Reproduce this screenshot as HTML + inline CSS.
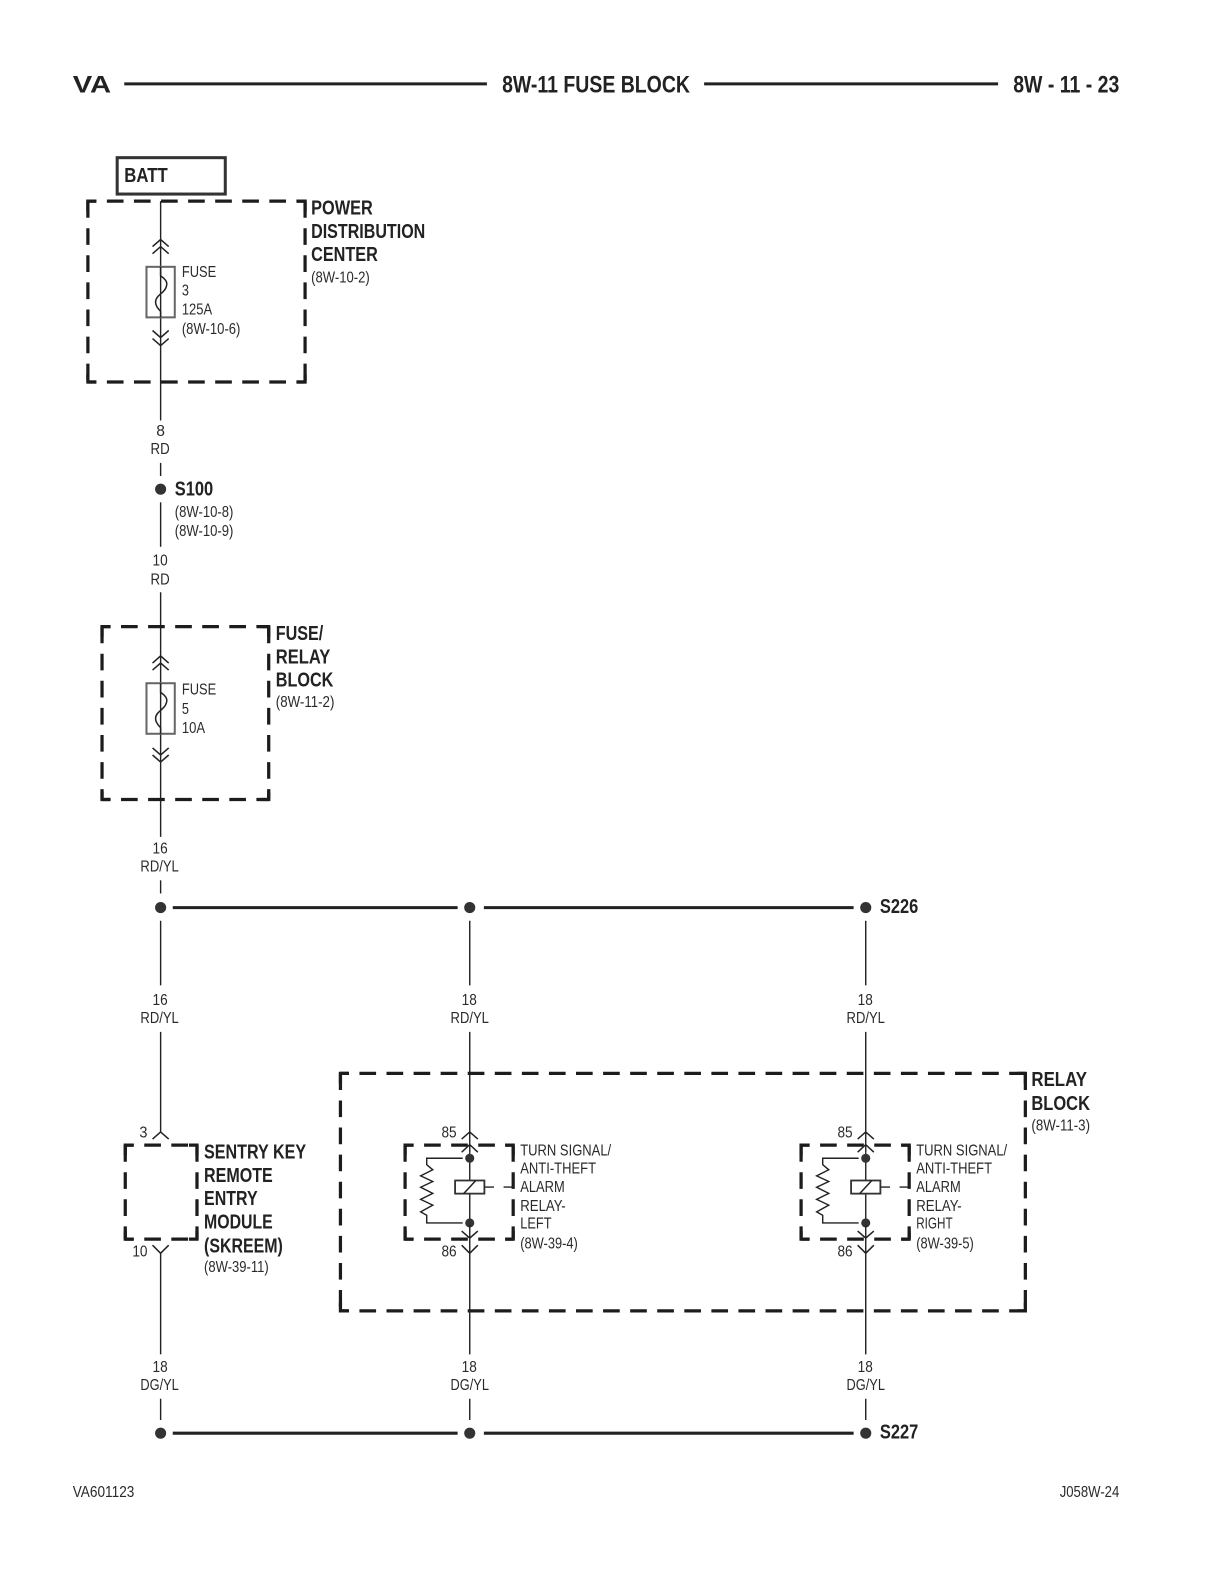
<!DOCTYPE html>
<html><head><meta charset="utf-8"><style>
html,body{margin:0;padding:0;background:#fff}
svg{display:block}
text{font-family:"Liberation Sans",sans-serif;fill:#2a2a2a;transform:translateY(-.7px)}
.s{font-size:15.5px}
.b{font-size:20px;font-weight:bold;fill:#222}
.h{font-size:24px;font-weight:bold;fill:#222}
.w{stroke:#222;stroke-width:1.4;fill:none}
.t{stroke:#222;stroke-width:3;fill:none}
.dh{stroke:#1c1c1c;stroke-width:3.2;fill:none;stroke-dasharray:16.5 10.3;stroke-dashoffset:8}
.dv{stroke:#1c1c1c;stroke-width:3.2;fill:none;stroke-dasharray:16.5 10.3}
.k{stroke:#1c1c1c;stroke-width:3.2;fill:none}
.a{stroke:#222;stroke-width:1.5;fill:none}
.f{stroke:#666;stroke-width:2;fill:none}
</style></head><body>
<svg width="1224" height="1584" viewBox="0 0 1224 1584" xmlns="http://www.w3.org/2000/svg">
<defs>
<g id="dot"><circle r="5.5" fill="#333"/></g>
<g id="fuse">
<rect x="-14" y="-25" width="28" height="50" class="f" fill="#fff"/>
<path d="M0,-25 V-16 C6,-12 7,-9 5.5,-5 C4,1 -5,3 -5,10 C-5,13 -3,16 0,19 V25" class="a"/>
</g>
<g id="relay">
<path d="M0,-35 V37" class="w"/>
<path d="M-7,-29 H-42.6 V-22.6 L-36.6,-17.6 L-48.6,-11.6 L-36.6,-6 L-48.6,-0.3 L-36.6,5.7 L-48.6,11.7 L-36.6,17.4 L-48.6,24 L-42.6,27.4 V35 H-7" class="w"/>
<circle cx="0" cy="-29" r="4.5" fill="#333"/>
<circle cx="0" cy="35" r="4.5" fill="#333"/>
<rect x="-14.5" y="-7" width="29" height="13" stroke="#333" stroke-width="1.8" fill="#fff"/>
<path d="M-6,6 L6,-7" class="a"/>
<path d="M14.5,-0.5 H24 M33.5,-0.5 H43" class="w"/>
<path d="M-8,-35 L0,-42.5 L8,-35 M-8,43 L0,50 L8,43" class="a"/>
</g>
</defs>
<g transform="scale(1.0102 1.0107)">

<!-- header -->
<text x="72" y="92" class="h" textLength="38" lengthAdjust="spacingAndGlyphs">VA</text>
<path d="M123,83 H482 M697,83 H988" stroke="#222" stroke-width="3" fill="none"/>
<text x="497" y="92" class="h" textLength="186" lengthAdjust="spacingAndGlyphs">8W-11 FUSE BLOCK</text>
<text x="1003" y="92" class="h" textLength="105" lengthAdjust="spacingAndGlyphs">8W - 11 - 23</text>

<!-- BATT -->
<rect x="116" y="156" width="107" height="36" stroke="#333" stroke-width="3" fill="#fff"/>
<text x="123" y="181" class="b" textLength="43" lengthAdjust="spacingAndGlyphs">BATT</text>

<!-- power distribution -->
<path class="dh" d="M87,199 H302 M87,378 H302"/>
<path class="dv" d="M87,199 V378 M302,199 V378"/>
<path class="k" d="M95,199 H87 V209 M294,199 H302 V209 M95,378 H87 V370 M294,378 H302 V370"/>
<text x="308" y="213" class="b" textLength="61" lengthAdjust="spacingAndGlyphs">POWER</text>
<text x="308" y="236" class="b" textLength="113" lengthAdjust="spacingAndGlyphs">DISTRIBUTION</text>
<text x="308" y="259" class="b" textLength="66" lengthAdjust="spacingAndGlyphs">CENTER</text>
<text x="308" y="280" class="s" textLength="58" lengthAdjust="spacingAndGlyphs">(8W-10-2)</text>

<path d="M159,199 V416" class="w"/>
<path d="M151,244 L159,237 L167,244 M151,251 L159,244 L167,251" class="a"/>
<use href="#fuse" x="159" y="289"/>
<path d="M151,327 L159,334 L167,327 M151,335 L159,342 L167,335" class="a"/>
<text x="180" y="275" class="s" textLength="34" lengthAdjust="spacingAndGlyphs">FUSE</text>
<text x="180" y="293" class="s" textLength="7" lengthAdjust="spacingAndGlyphs">3</text>
<text x="180" y="312" class="s" textLength="30" lengthAdjust="spacingAndGlyphs">125A</text>
<text x="180" y="331" class="s" textLength="58" lengthAdjust="spacingAndGlyphs">(8W-10-6)</text>

<text x="159" y="432" class="s" text-anchor="middle">8</text>
<text x="149" y="450" class="s" textLength="19" lengthAdjust="spacingAndGlyphs">RD</text>
<path d="M159,458 V471" class="w"/>
<use href="#dot" x="159" y="484"/>
<text x="173" y="491" class="b" textLength="38" lengthAdjust="spacingAndGlyphs">S100</text>
<text x="173" y="512" class="s" textLength="58" lengthAdjust="spacingAndGlyphs">(8W-10-8)</text>
<text x="173" y="531" class="s" textLength="58" lengthAdjust="spacingAndGlyphs">(8W-10-9)</text>
<path d="M159,497 V541" class="w"/>
<text x="151" y="560" class="s" textLength="15" lengthAdjust="spacingAndGlyphs">10</text>
<text x="149" y="579" class="s" textLength="19" lengthAdjust="spacingAndGlyphs">RD</text>

<!-- fuse relay block -->
<path d="M159,586 V828" class="w"/>
<path class="dh" d="M101,620 H266 M101,791 H266"/>
<path class="dv" d="M101,620 V791 M266,620 V791"/>
<path class="k" d="M109,620 H101 V630 M258,620 H266 V630 M109,791 H101 V783 M258,791 H266 V783"/>
<path d="M151,656 L159,649 L167,656 M151,663 L159,656 L167,663" class="a"/>
<use href="#fuse" x="159" y="701"/>
<path d="M151,740 L159,747 L167,740 M151,747 L159,754 L167,747" class="a"/>
<text x="180" y="688" class="s" textLength="34" lengthAdjust="spacingAndGlyphs">FUSE</text>
<text x="180" y="707" class="s" textLength="7" lengthAdjust="spacingAndGlyphs">5</text>
<text x="180" y="726" class="s" textLength="23" lengthAdjust="spacingAndGlyphs">10A</text>
<text x="273" y="634" class="b" textLength="47" lengthAdjust="spacingAndGlyphs">FUSE/</text>
<text x="273" y="657" class="b" textLength="54" lengthAdjust="spacingAndGlyphs">RELAY</text>
<text x="273" y="680" class="b" textLength="57" lengthAdjust="spacingAndGlyphs">BLOCK</text>
<text x="273" y="700" class="s" textLength="58" lengthAdjust="spacingAndGlyphs">(8W-11-2)</text>

<text x="151" y="845" class="s" textLength="15" lengthAdjust="spacingAndGlyphs">16</text>
<text x="139" y="863" class="s" textLength="38" lengthAdjust="spacingAndGlyphs">RD/YL</text>
<path d="M159,871 V884" class="w"/>

<!-- S226 bus -->
<use href="#dot" x="159" y="898"/><use href="#dot" x="465" y="898"/><use href="#dot" x="857" y="898"/>
<path d="M171,898 H453 M479,898 H845" class="t"/>
<text x="871" y="904" class="b" textLength="38" lengthAdjust="spacingAndGlyphs">S226</text>

<path d="M159,911 V975 M465,911 V975 M857,911 V975" class="w"/>
<text x="151" y="995" class="s" textLength="15" lengthAdjust="spacingAndGlyphs">16</text>
<text x="139" y="1013" class="s" textLength="38" lengthAdjust="spacingAndGlyphs">RD/YL</text>
<text x="457" y="995" class="s" textLength="15" lengthAdjust="spacingAndGlyphs">18</text>
<text x="446" y="1013" class="s" textLength="38" lengthAdjust="spacingAndGlyphs">RD/YL</text>
<text x="849" y="995" class="s" textLength="15" lengthAdjust="spacingAndGlyphs">18</text>
<text x="838" y="1013" class="s" textLength="38" lengthAdjust="spacingAndGlyphs">RD/YL</text>
<path d="M159,1021 V1120 M465,1021 V1120 M857,1021 V1120" class="w"/>

<!-- relay block -->
<path class="dh" d="M337,1062 H1015 M337,1297 H1015"/>
<path class="dv" d="M337,1062 V1297 M1015,1062 V1297"/>
<path class="k" d="M345,1062 H337 V1072 M1007,1062 H1015 V1072 M345,1297 H337 V1289 M1007,1297 H1015 V1289"/>
<text x="1021" y="1075" class="b" textLength="55" lengthAdjust="spacingAndGlyphs">RELAY</text>
<text x="1021" y="1099" class="b" textLength="58" lengthAdjust="spacingAndGlyphs">BLOCK</text>
<text x="1021" y="1119" class="s" textLength="58" lengthAdjust="spacingAndGlyphs">(8W-11-3)</text>

<!-- SKREEM -->
<path d="M151,1127 L159,1120 L167,1127" class="a"/>
<text x="138" y="1126" class="s" textLength="8" lengthAdjust="spacingAndGlyphs">3</text>
<path class="dh" d="M124,1133 H195 M124,1226 H195"/>
<path class="dv" d="M124,1133 V1226 M195,1133 V1226"/>
<path class="k" d="M132,1133 H124 V1143 M187,1133 H195 V1143 M132,1226 H124 V1218 M187,1226 H195 V1218"/>
<text x="202" y="1147" class="b" textLength="101" lengthAdjust="spacingAndGlyphs">SENTRY KEY</text>
<text x="202" y="1170" class="b" textLength="68" lengthAdjust="spacingAndGlyphs">REMOTE</text>
<text x="202" y="1193" class="b" textLength="53" lengthAdjust="spacingAndGlyphs">ENTRY</text>
<text x="202" y="1216" class="b" textLength="68" lengthAdjust="spacingAndGlyphs">MODULE</text>
<text x="202" y="1240" class="b" textLength="78" lengthAdjust="spacingAndGlyphs">(SKREEM)</text>
<text x="202" y="1259" class="s" textLength="64" lengthAdjust="spacingAndGlyphs">(8W-39-11)</text>
<path d="M151,1232 L159,1240 L167,1232" class="a"/>
<text x="131" y="1244" class="s" textLength="15" lengthAdjust="spacingAndGlyphs">10</text>

<!-- relay left -->
<path class="dh" d="M401,1133 H508 M401,1226 H508"/>
<path class="dv" d="M401,1133 V1226 M508,1133 V1226"/>
<path class="k" d="M409,1133 H401 V1143 M500,1133 H508 V1143 M409,1226 H401 V1218 M500,1226 H508 V1218"/>
<use href="#relay" x="465" y="1175"/>
<path d="M465,1120 V1140 M465,1212 V1340" class="w"/>
<path d="M457,1127 L465,1120 L473,1127 M457,1232 L465,1240 L473,1232" class="a"/>
<text x="437" y="1126" class="s" textLength="15" lengthAdjust="spacingAndGlyphs">85</text>
<text x="437" y="1244" class="s" textLength="15" lengthAdjust="spacingAndGlyphs">86</text>
<text x="515" y="1144" class="s" textLength="90" lengthAdjust="spacingAndGlyphs">TURN SIGNAL/</text>
<text x="515" y="1162" class="s" textLength="75" lengthAdjust="spacingAndGlyphs">ANTI-THEFT</text>
<text x="515" y="1180" class="s" textLength="44" lengthAdjust="spacingAndGlyphs">ALARM</text>
<text x="515" y="1199" class="s" textLength="45" lengthAdjust="spacingAndGlyphs">RELAY-</text>
<text x="515" y="1216" class="s" textLength="31" lengthAdjust="spacingAndGlyphs">LEFT</text>
<text x="515" y="1236" class="s" textLength="57" lengthAdjust="spacingAndGlyphs">(8W-39-4)</text>

<!-- relay right -->
<path class="dh" d="M793,1133 H900 M793,1226 H900"/>
<path class="dv" d="M793,1133 V1226 M900,1133 V1226"/>
<path class="k" d="M801,1133 H793 V1143 M892,1133 H900 V1143 M801,1226 H793 V1218 M892,1226 H900 V1218"/>
<use href="#relay" x="857" y="1175"/>
<path d="M857,1120 V1140 M857,1212 V1340" class="w"/>
<path d="M849,1127 L857,1120 L865,1127 M849,1232 L857,1240 L865,1232" class="a"/>
<text x="829" y="1126" class="s" textLength="15" lengthAdjust="spacingAndGlyphs">85</text>
<text x="829" y="1244" class="s" textLength="15" lengthAdjust="spacingAndGlyphs">86</text>
<text x="907" y="1144" class="s" textLength="90" lengthAdjust="spacingAndGlyphs">TURN SIGNAL/</text>
<text x="907" y="1162" class="s" textLength="75" lengthAdjust="spacingAndGlyphs">ANTI-THEFT</text>
<text x="907" y="1180" class="s" textLength="44" lengthAdjust="spacingAndGlyphs">ALARM</text>
<text x="907" y="1199" class="s" textLength="45" lengthAdjust="spacingAndGlyphs">RELAY-</text>
<text x="907" y="1216" class="s" textLength="36" lengthAdjust="spacingAndGlyphs">RIGHT</text>
<text x="907" y="1236" class="s" textLength="57" lengthAdjust="spacingAndGlyphs">(8W-39-5)</text>

<path d="M159,1240 V1340" class="w"/>
<text x="151" y="1358" class="s" textLength="15" lengthAdjust="spacingAndGlyphs">18</text>
<text x="139" y="1376" class="s" textLength="38" lengthAdjust="spacingAndGlyphs">DG/YL</text>
<text x="457" y="1358" class="s" textLength="15" lengthAdjust="spacingAndGlyphs">18</text>
<text x="446" y="1376" class="s" textLength="38" lengthAdjust="spacingAndGlyphs">DG/YL</text>
<text x="849" y="1358" class="s" textLength="15" lengthAdjust="spacingAndGlyphs">18</text>
<text x="838" y="1376" class="s" textLength="38" lengthAdjust="spacingAndGlyphs">DG/YL</text>
<path d="M159,1384 V1405 M465,1384 V1405 M857,1384 V1405" class="w"/>

<!-- S227 bus -->
<use href="#dot" x="159" y="1418"/><use href="#dot" x="465" y="1418"/><use href="#dot" x="857" y="1418"/>
<path d="M171,1418 H453 M479,1418 H845" class="t"/>
<text x="871" y="1424" class="b" textLength="38" lengthAdjust="spacingAndGlyphs">S227</text>

<text x="72" y="1482" class="s" textLength="61" lengthAdjust="spacingAndGlyphs">VA601123</text>
<text x="1049" y="1482" class="s" textLength="59" lengthAdjust="spacingAndGlyphs">J058W-24</text>
</g>
</svg>
</body></html>
